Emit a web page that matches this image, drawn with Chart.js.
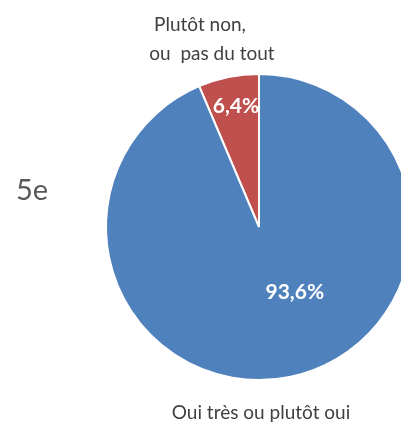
<!DOCTYPE html>
<html>
<head>
<meta charset="utf-8">
<script src="https://cdn.jsdelivr.net/npm/chart.js@4"></script>
<style>
  html, body { margin: 0; padding: 0; background: #fff; overflow: hidden; }
  #wrap { position: relative; width: 401px; height: 425px; overflow: hidden; }
  canvas { position: absolute; left: 0; top: 0; }
</style>
</head>
<body>
<div id="wrap"><canvas id="canvas" width="420" height="425"></canvas></div>
<script>
const categories = ["Plutôt non,\nou  pas du tout", "Oui très ou plutôt oui"];
const values = [6.4, 93.6];
const colors = ["#C0504D", "#4F81BD"];
const groupLabel = "5e";

// where each value label sits: angle (deg, clockwise from top) and fraction of radius
const valuePos = [{ angle: -10.7, r: 0.81 }, { angle: 151, r: 0.483 }];

const labelsPlugin = {
    id: "labels",
    afterDraw(chart) {
        let ctx = chart.ctx;
        let arc = chart.getDatasetMeta(0).data[0];
        let cx = arc.x, cy = arc.y, R = arc.outerRadius;
        ctx.save();
        ctx.textAlign = "center";
        ctx.textBaseline = "middle";

        // value labels
        ctx.fillStyle = "#fff";
        ctx.font = "bold 21px Lato";
        values.forEach((v, i) => {
            let a = valuePos[i].angle * Math.PI / 180;
            let d = valuePos[i].r * R;
            ctx.fillText(v.toFixed(1).replace(".", ",") + "%", cx + Math.sin(a) * d, cy - Math.cos(a) * d + 1);
        });

        // category labels
        ctx.fillStyle = "#404040";
        ctx.font = "19px Lato";
        let top = categories[0].split("\n");
        ctx.fillText(top[0], cx - 59, cy - 202);
        ctx.fillText(top[1], cx - 47, cy - 173);
        ctx.fillText(categories[1], cx + 2, cy + 186);

        // row label
        ctx.fillStyle = "#595959";
        ctx.font = "29px Lato";
        ctx.textAlign = "left";
        ctx.fillText(groupLabel, 16, 191);
        ctx.restore();
    }
};

new Chart(document.getElementById("canvas"), {
    type: "pie",
    data: {
        labels: categories,
        datasets: [{
            data: values,
            backgroundColor: colors,
            borderColor: "#fff",
            borderWidth: 2
        }]
    },
    options: {
        responsive: false,
        animation: false,
        rotation: -values[0] * 3.6,
        layout: { padding: { left: 105, right: 7, top: 73, bottom: 44 } },
        plugins: {
            legend: { display: false },
            tooltip: { enabled: false }
        }
    },
    plugins: [labelsPlugin]
});
</script>
</body>
</html>
